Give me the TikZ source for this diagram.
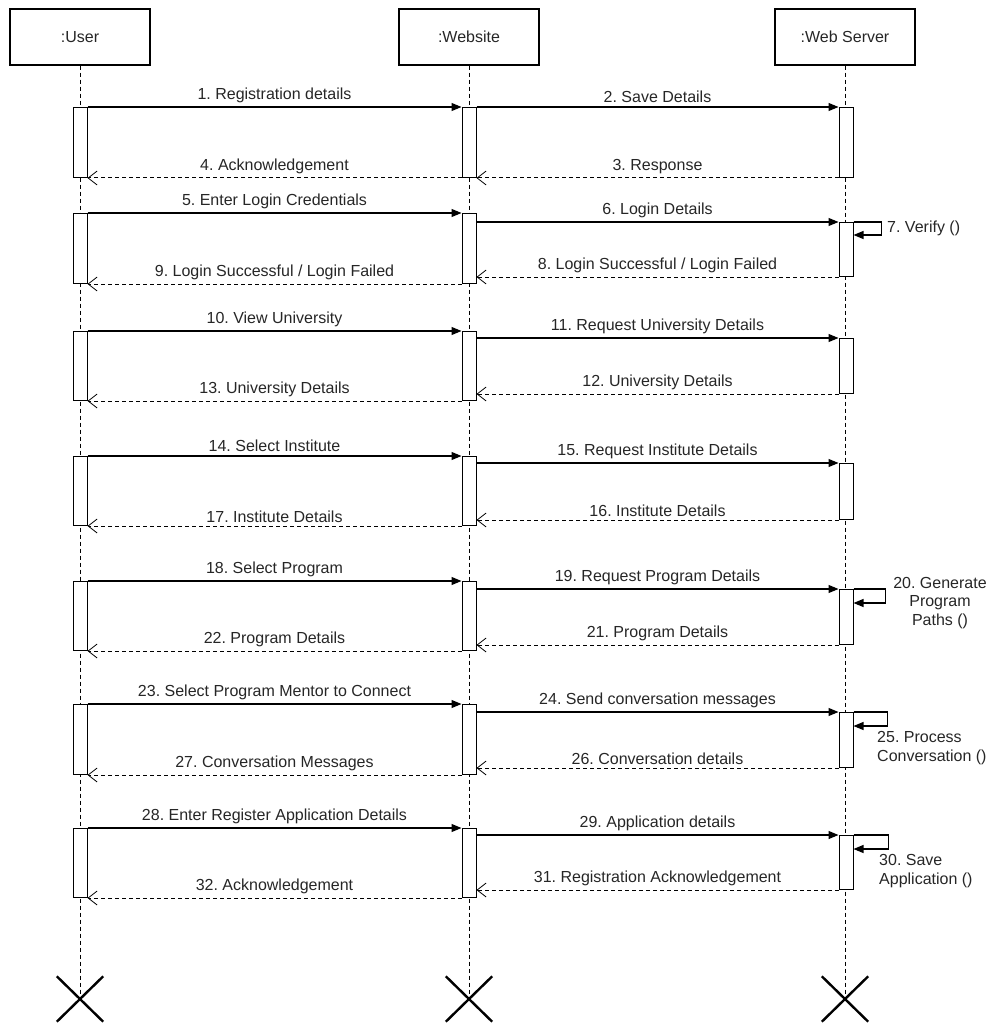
\documentclass[tikz,border=0pt]{standalone}
\usepackage{fontspec}
\setmainfont{Liberation Sans}
\usepackage{tikz}
\usetikzlibrary{arrows.meta,positioning,shapes.misc}
\frenchspacing

\tikzset{
	head/.style={draw,line width=1.2pt,minimum width=140,minimum height=56,inner sep=0},
	bar/.style={draw,fill=white,line width=1pt,minimum width=14,inner sep=0,anchor=north},
	life/.style={line width=0.9pt,dash pattern=on 4pt off 3pt},
	call/.style={line width=1.1pt,-{Triangle[length=10pt,width=8pt]}},
	reply/.style={line width=1pt,dash pattern=on 4pt off 3pt,-{Straight Barb[length=9pt,width=14pt,line width=0.8pt]}},
	endx/.style={cross out,draw,line width=2.4pt,minimum width=44,minimum height=43,inner sep=0},
	txt/.style={text=black!85}
}

\begin{document}
\begin{tikzpicture}[x=1pt,y=-1pt,font=\fontsize{16}{18.5}\selectfont\frenchspacing,every node/.append style={txt}]
	\useasboundingbox (0,0) rectangle (995,1024);
	% lifeline heads
	\node[head] (user) at (80,37) {:User};
	\node[head] (web) at (469,37) {:Website};
	\node[head] (srv) at (845,37) {:Web Server};
	% end marks
	\node[endx] (xu) at (80,999) {};
	\node[endx] (xw) at (469,999) {};
	\node[endx] (xs) at (845,999) {};
	\draw[life] (user) -- (xu.center);
	\draw[life] (web) -- (xw.center);
	\draw[life] (srv) -- (xs.center);

	% activation bars
	\node[bar,minimum height=70] (u1) at (80,107) {};
	\node[bar,minimum height=70] (w1) at (469,107) {};
	\node[bar,minimum height=70] (s1) at (846,107) {};
	\node[bar,minimum height=70] (u2) at (80,213) {};
	\node[bar,minimum height=70] (w2) at (469,213) {};
	\node[bar,minimum height=54] (s2) at (846,222) {};
	\node[bar,minimum height=69] (u3) at (80,331) {};
	\node[bar,minimum height=69] (w3) at (469,331) {};
	\node[bar,minimum height=55] (s3) at (846,338) {};
	\node[bar,minimum height=69] (u4) at (80,456) {};
	\node[bar,minimum height=69] (w4) at (469,456) {};
	\node[bar,minimum height=56] (s4) at (846,463) {};
	\node[bar,minimum height=69] (u5) at (80,581) {};
	\node[bar,minimum height=69] (w5) at (469,581) {};
	\node[bar,minimum height=55] (s5) at (846,589) {};
	\node[bar,minimum height=70] (u6) at (80,704) {};
	\node[bar,minimum height=70] (w6) at (469,704) {};
	\node[bar,minimum height=55] (s6) at (846,712) {};
	\node[bar,minimum height=69] (u7) at (80,828) {};
	\node[bar,minimum height=69] (w7) at (469,828) {};
	\node[bar,minimum height=54] (s7) at (846,835) {};

	% registration
	\draw[call] (u1.north east) -- (w1.north west) node[midway,above] {1. Registration details};
	\draw[call] (w1.north east) -- (s1.north west) node[midway,above] {2. Save Details};
	\draw[reply] (s1.south west) -- (w1.south east) node[midway,above] {3. Response};
	\draw[reply] (w1.south west) -- (u1.south east) node[midway,above] {4. Acknowledgement};

	% login
	\draw[call] (u2.north east) -- (w2.north west) node[midway,above] {5. Enter Login Credentials};
	\draw[call] (w2.east |- s2.north) -- (s2.north west) node[midway,above] {6. Login Details};
	\draw[call] (s2.north east) -- ++(28,0) |- ++(-28,13);
	\node[anchor=west,inner sep=0] (v7) at (887,228) {7. Verify ()};
	\draw[reply] (s2.south west) -- (w2.east |- s2.south) node[midway,above] {8. Login Successful / Login Failed};
	\draw[reply] (w2.south west) -- (u2.south east) node[midway,above] {9. Login Successful / Login Failed};

	% university
	\draw[call] (u3.north east) -- (w3.north west) node[midway,above] {10. View University};
	\draw[call] (w3.east |- s3.north) -- (s3.north west) node[midway,above] {11. Request University Details};
	\draw[reply] (s3.south west) -- (w3.east |- s3.south) node[midway,above] {12. University Details};
	\draw[reply] (w3.south west) -- (u3.south east) node[midway,above] {13. University Details};

	% institute
	\draw[call] (u4.north east) -- (w4.north west) node[midway,above] {14. Select Institute};
	\draw[call] (w4.east |- s4.north) -- (s4.north west) node[midway,above] {15. Request Institute Details};
	\draw[reply] (s4.south west) -- (w4.east |- s4.south) node[midway,above] {16. Institute Details};
	\draw[reply] (w4.south west) -- (u4.south east) node[midway,above] {17. Institute Details};

	% program
	\draw[call] (u5.north east) -- (w5.north west) node[midway,above] {18. Select Program};
	\draw[call] (w5.east |- s5.north) -- (s5.north west) node[midway,above] {19. Request Program Details};
	\draw[call] (s5.north east) -- ++(32,0) |- ++(-32,14);
	\node[align=center,inner sep=0] (g20) at (940,603) {20. Generate\\Program\\Paths ()};
	\draw[reply] (s5.south west) -- (w5.east |- s5.south) node[midway,above] {21. Program Details};
	\draw[reply] (w5.south west) -- (u5.south east) node[midway,above] {22. Program Details};

	% mentor
	\draw[call] (u6.north east) -- (w6.north west) node[midway,above] {23. Select Program Mentor to Connect};
	\draw[call] (w6.east |- s6.north) -- (s6.north west) node[midway,above] {24. Send conversation messages};
	\draw[call] (s6.north east) -- ++(34,0) |- ++(-34,14);
	\node[align=left,anchor=west,inner sep=0] (p25) at (877,748) {25. Process\\Conversation ()};
	\draw[reply] (s6.south west) -- (w6.east |- s6.south) node[midway,above] {26. Conversation details};
	\draw[reply] (w6.south west) -- (u6.south east) node[midway,above] {27. Conversation Messages};

	% application
	\draw[call] (u7.north east) -- (w7.north west) node[midway,above] {28. Enter Register Application Details};
	\draw[call] (w7.east |- s7.north) -- (s7.north west) node[midway,above] {29. Application details};
	\draw[call] (s7.north east) -- ++(35,0) |- ++(-35,14);
	\node[align=left,anchor=west,inner sep=0] (a30) at (879,871) {30. Save\\Application ()};
	\draw[reply] (s7.south west) -- (w7.east |- s7.south) node[midway,above] {31. Registration Acknowledgement};
	\draw[reply] (w7.south west) -- (u7.south east) node[midway,above] {32. Acknowledgement};
\end{tikzpicture}
\end{document}
